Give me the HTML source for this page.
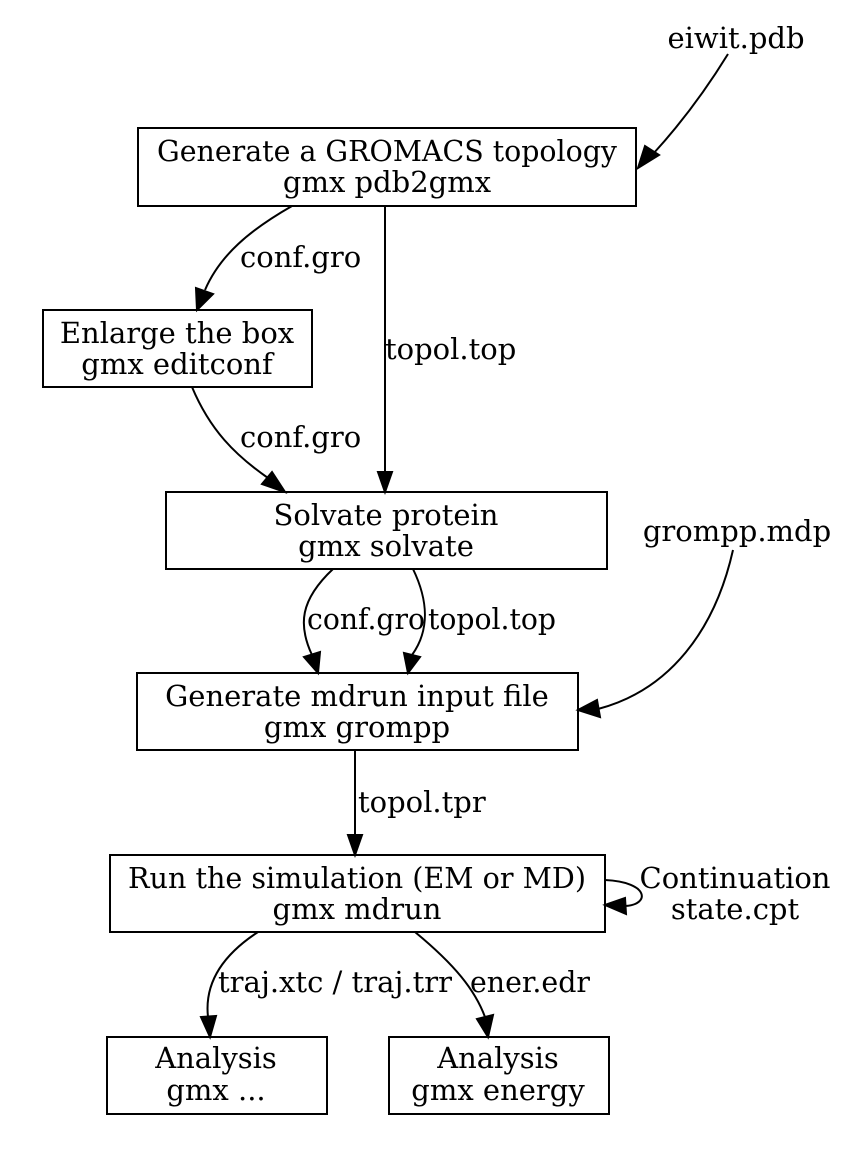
<!DOCTYPE html>
<html><head><meta charset="utf-8"><style>
html,body{margin:0;padding:0;background:#fff;}
svg{display:block;}
text{font-family:"DejaVu Serif","Liberation Serif",serif;font-size:29px;fill:#000;}
</style></head><body>
<svg width="865" height="1160" viewBox="0 0 865 1160" xmlns="http://www.w3.org/2000/svg">
<g fill="none" stroke="#000" stroke-width="2">
<rect x="138" y="128" width="498" height="78"/>
<rect x="43" y="310" width="269" height="77"/>
<rect x="166" y="492" width="441" height="77"/>
<rect x="137" y="673" width="441" height="77"/>
<rect x="110" y="855" width="495" height="77"/>
<rect x="107" y="1037" width="220" height="77"/>
<rect x="389" y="1037" width="220" height="77"/>
<path d="M728,54 C712,80 686,118 653,154"/>
<path d="M292,206 C250,230 220,255 205,290"/>
<path d="M385,206 L385,472"/>
<path d="M192,387 C210,430 235,455 268,478"/>
<path d="M333,569 C300,600 298,625 312,655"/>
<path d="M413,569 C428,600 430,630 412,655"/>
<path d="M733,550 C715,630 670,690 598,709"/>
<path d="M355,750 L355,835"/>
<path d="M605,880 C650,882 650,905 625,906"/>
<path d="M258,932 C215,960 205,990 208,1017"/>
<path d="M415,932 C455,965 475,990 485,1017"/>
</g>
<g fill="#000" stroke="#000" stroke-width="2">
<polygon points="638,168 645,146 659,155"/>
<polygon points="197,310 196,288 213,294"/>
<polygon points="385,492 378,472 392,472"/>
<polygon points="285,492 262,484 272,472"/>
<polygon points="318,673 304,657 320,652"/>
<polygon points="408,673 404,653 420,657"/>
<polygon points="578,710 597,700 600,717"/>
<polygon points="355,855 348,835 362,835"/>
<polygon points="605,905 625,898 626,914"/>
<polygon points="210,1037 201,1017 216,1016"/>
<polygon points="488,1037 477,1019 493,1015"/>
</g>
<g text-anchor="middle">
<text x="736" y="48">eiwit.pdb</text>
<text x="387" y="161" textLength="460" lengthAdjust="spacingAndGlyphs">Generate a GROMACS topology</text>
<text x="387" y="192">gmx pdb2gmx</text>
<text x="177" y="343">Enlarge the box</text>
<text x="177" y="374">gmx editconf</text>
<text x="386" y="525">Solvate protein</text>
<text x="386" y="556">gmx solvate</text>
<text x="737" y="541">grompp.mdp</text>
<text x="357" y="706">Generate mdrun input file</text>
<text x="357" y="737">gmx grompp</text>
<text x="357" y="888" textLength="458" lengthAdjust="spacingAndGlyphs">Run the simulation (EM or MD)</text>
<text x="357" y="919">gmx mdrun</text>
<text x="735" y="888">Continuation</text>
<text x="735" y="919">state.cpt</text>
<text x="216" y="1068">Analysis</text>
<text x="216" y="1100">gmx ...</text>
<text x="498" y="1068">Analysis</text>
<text x="498" y="1100">gmx energy</text>
</g>
<g>
<text x="240" y="267">conf.gro</text>
<text x="385" y="359">topol.top</text>
<text x="240" y="447">conf.gro</text>
<text x="307" y="629" textLength="118" lengthAdjust="spacingAndGlyphs">conf.gro</text>
<text x="428" y="629" textLength="128" lengthAdjust="spacingAndGlyphs">topol.top</text>
<text x="358" y="812">topol.tpr</text>
<text x="218" y="992" textLength="234" lengthAdjust="spacingAndGlyphs">traj.xtc / traj.trr</text>
<text x="470" y="992" textLength="120" lengthAdjust="spacingAndGlyphs">ener.edr</text>
</g>
</svg>
</body></html>
